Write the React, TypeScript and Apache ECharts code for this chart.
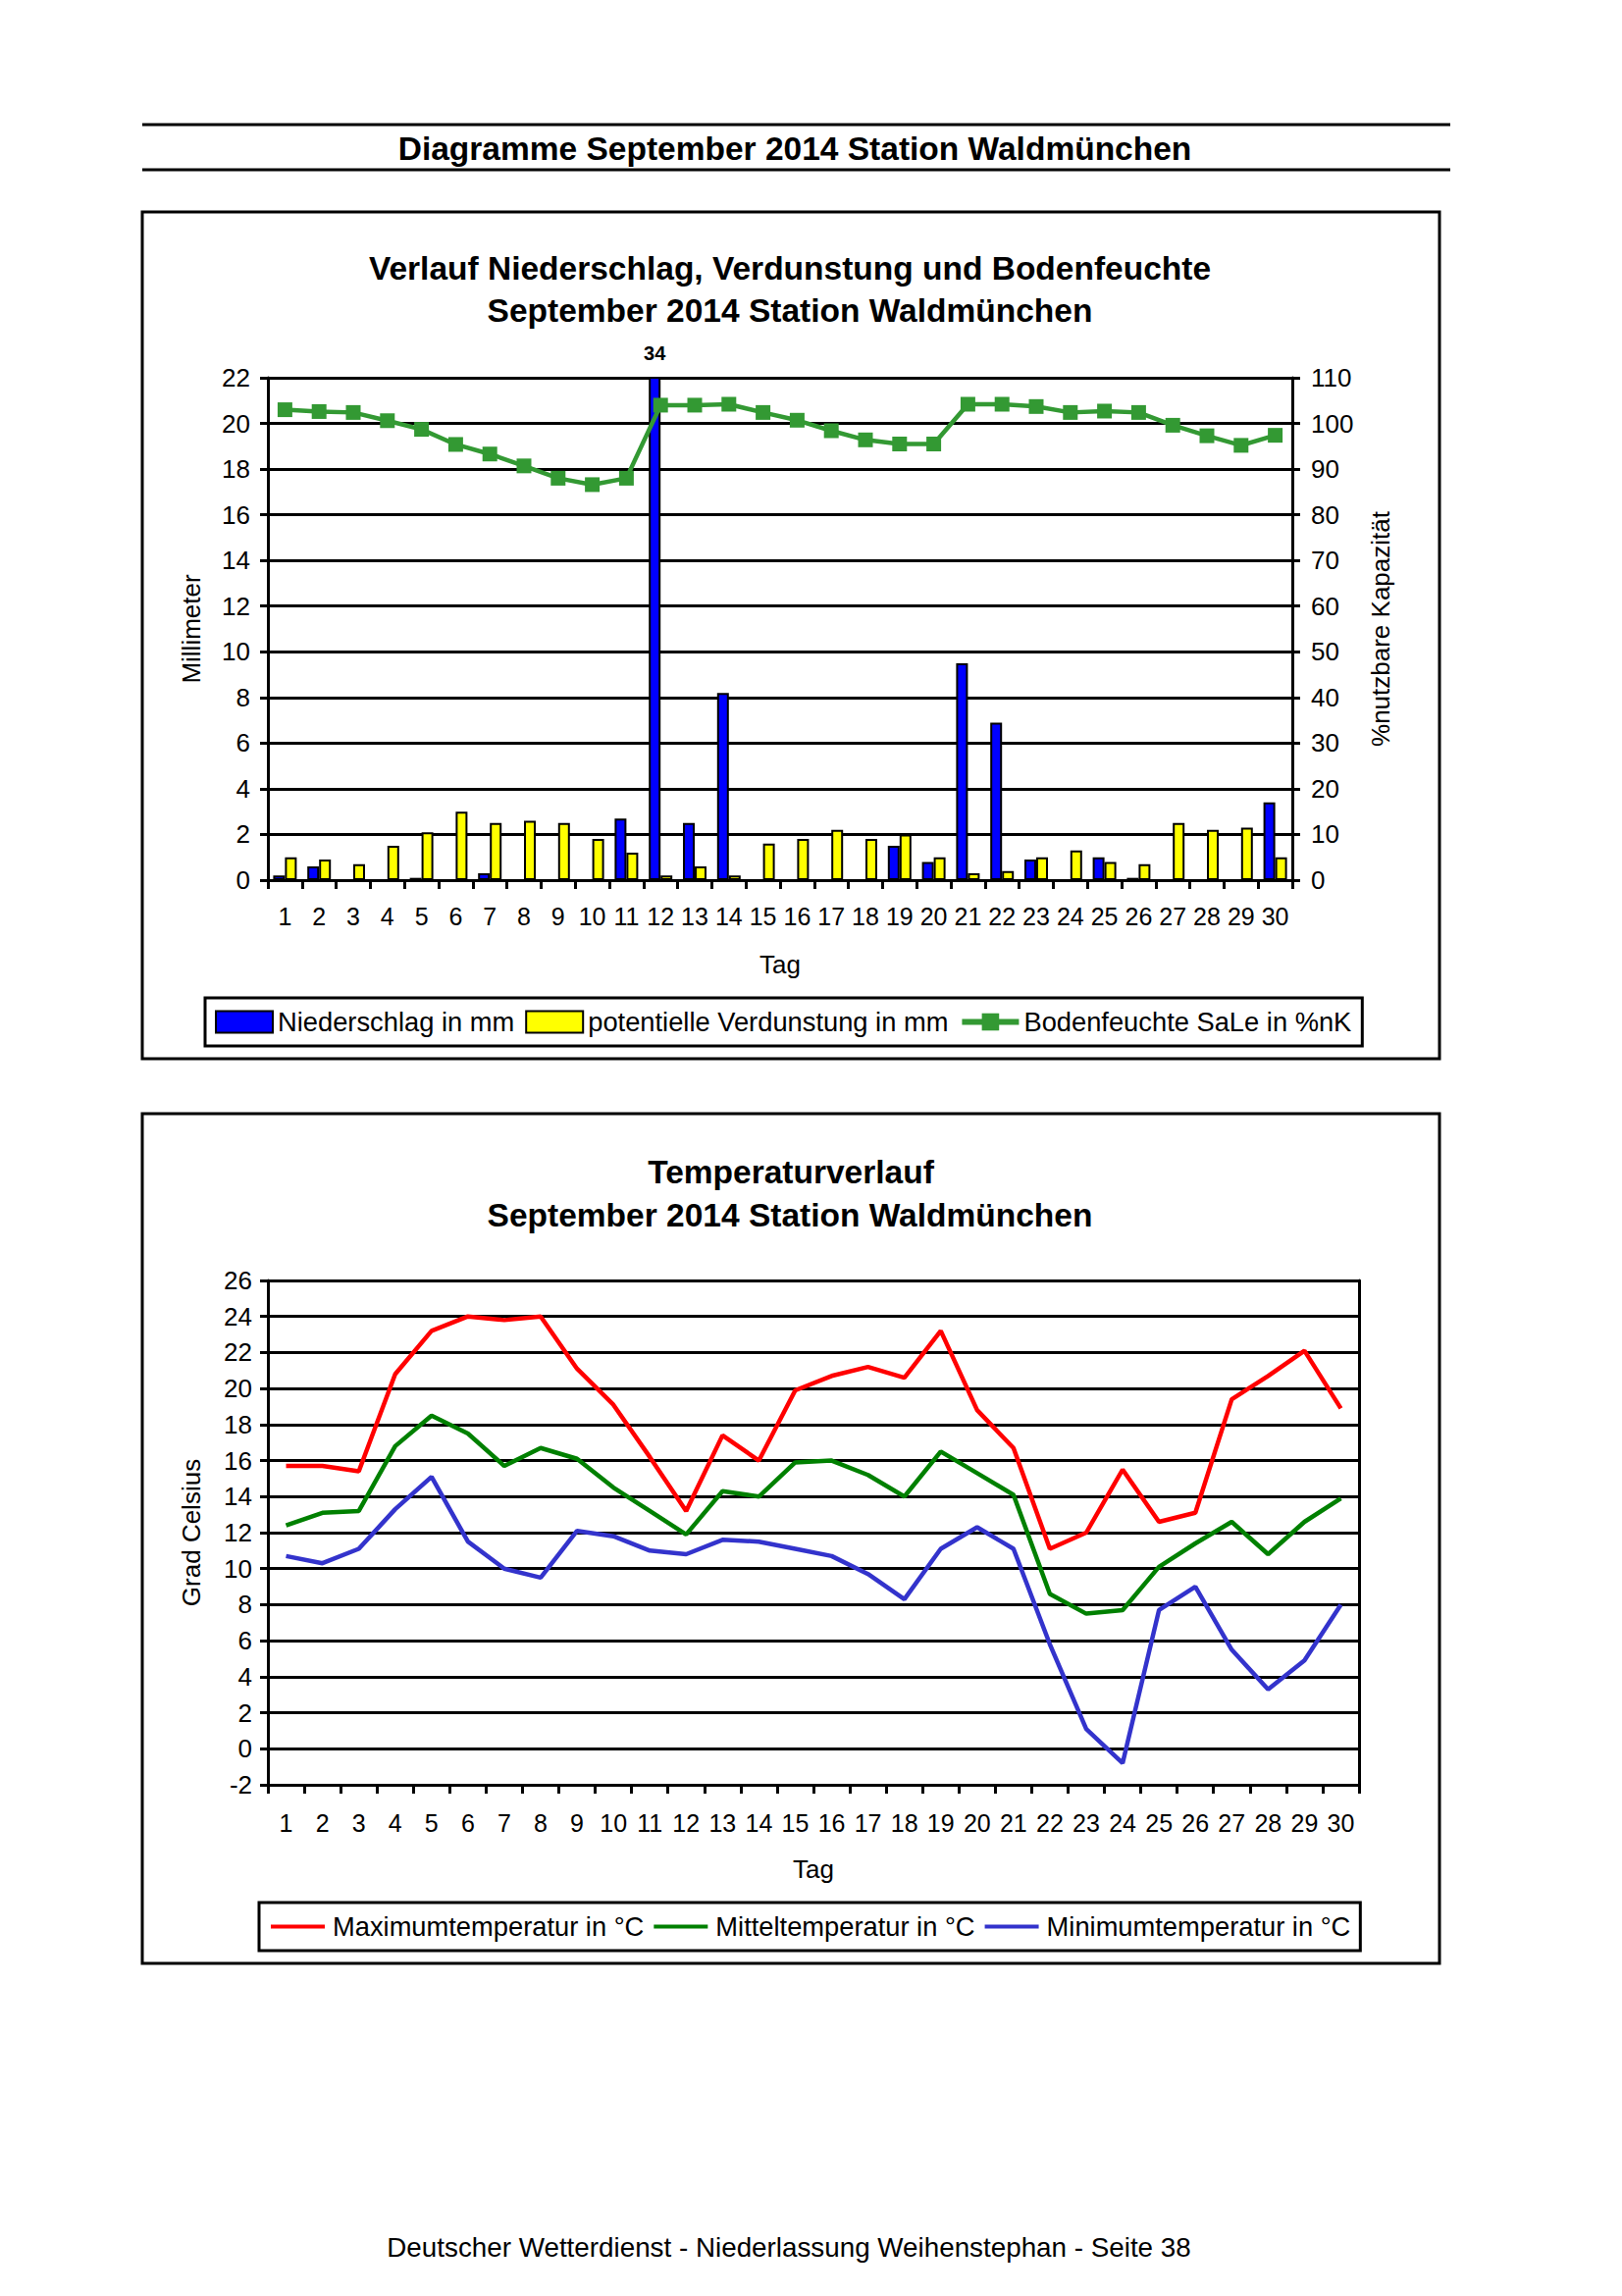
import React, { useEffect, useRef } from 'react';
import * as echarts from 'echarts';

const FONT = '"Liberation Sans", Arial, Helvetica, sans-serif';

const days = ['1','2','3','4','5','6','7','8','9','10','11','12','13','14','15','16','17','18','19','20','21','22','23','24','25','26','27','28','29','30'];

// Niederschlag in mm
const precipitation = [0.2,0.6,0,0,0.1,0,0.3,0,0,0,2.7,34,2.5,8.2,0,0,0,0,1.5,0.8,9.5,6.9,0.9,0,1.0,0.1,0,0,0,3.4];
// potentielle Verdunstung in mm
const evaporation = [1.0,0.9,0.7,1.5,2.1,3.0,2.5,2.6,2.5,1.8,1.2,0.2,0.6,0.2,1.6,1.8,2.2,1.8,2.0,1.0,0.3,0.4,1.0,1.3,0.8,0.7,2.5,2.2,2.3,1.0];
// Bodenfeuchte SaLe in %nK
const soilMoisture = [103.0,102.6,102.4,100.6,98.7,95.4,93.3,90.7,88.0,86.6,88.0,104.0,104.0,104.2,102.4,100.7,98.4,96.4,95.5,95.5,104.2,104.2,103.7,102.4,102.7,102.4,99.6,97.3,95.2,97.4];

// Temperatures in °C
const tMax = [15.7,15.7,15.4,20.8,23.2,24.0,23.8,24.0,21.1,19.1,16.2,13.2,17.4,16.0,19.9,20.7,21.2,20.6,23.2,18.8,16.7,11.1,12.0,15.5,12.6,13.1,19.4,20.7,22.1,18.9];
const tMean = [12.4,13.1,13.2,16.8,18.5,17.5,15.7,16.7,16.1,14.5,13.2,11.9,14.3,14.0,15.9,16.0,15.2,14.0,16.5,15.3,14.1,8.6,7.5,7.7,10.1,11.4,12.6,10.8,12.6,13.9];
const tMin = [10.7,10.3,11.1,13.3,15.1,11.5,10.0,9.5,12.1,11.8,11.0,10.8,11.6,11.5,11.1,10.7,9.7,8.3,11.1,12.3,11.1,5.8,1.1,-0.8,7.7,9.0,5.5,3.3,4.9,8.0];

export default function App() {
  const ref = useRef<HTMLDivElement>(null);

  useEffect(() => {
    if (!ref.current) return;
    const chart = echarts.init(ref.current, null, { renderer: 'svg', width: 1653, height: 2340 });
    const axisLine = { color: '#000', width: 3 };
    const labelStyle = { fontSize: 25, color: '#000', fontFamily: FONT };
    const titleSize = 33.5;

    const precipData = precipitation.map((v) =>
      v > 22
        ? { value: v, label: { show: true, position: 'top', distance: 14, formatter: String(v), fontSize: 20, fontWeight: 'bold', color: '#000', fontFamily: FONT } }
        : v
    );

    const option: any = {
      animation: false,
      backgroundColor: '#fff',
      textStyle: { fontFamily: FONT, color: '#000' },
      grid: [
        { left: 273, top: 385, width: 1044, height: 512 },
        { left: 273, top: 1305, width: 1112, height: 514 },
      ],
      xAxis: [
        {
          type: 'category', gridIndex: 0, data: days, boundaryGap: true,
          axisLine: { onZero: false, lineStyle: axisLine },
          axisTick: { show: true, length: 9, lineStyle: axisLine, interval: 0 },
          axisLabel: { ...labelStyle, interval: 0, margin: 24 },
          name: 'Tag', nameLocation: 'middle', nameGap: 73,
          nameTextStyle: { fontSize: 26, color: '#000', fontFamily: FONT },
        },
        {
          type: 'category', gridIndex: 1, data: days, boundaryGap: true,
          axisLine: { onZero: false, lineStyle: axisLine },
          axisTick: { show: true, length: 9, lineStyle: axisLine, interval: 0 },
          axisLabel: { ...labelStyle, interval: 0, margin: 26 },
          name: 'Tag', nameLocation: 'middle', nameGap: 73,
          nameTextStyle: { fontSize: 26, color: '#000', fontFamily: FONT },
        },
      ],
      yAxis: [
        {
          type: 'value', gridIndex: 0, min: 0, max: 22, interval: 2,
          axisLine: { show: true, lineStyle: axisLine },
          axisTick: { show: true, length: 8, lineStyle: axisLine },
          axisLabel: { fontSize: 26, color: '#000', fontFamily: FONT, margin: 18 },
          splitLine: { show: true, lineStyle: { color: '#000', width: 3 } },
          name: 'Millimeter', nameLocation: 'middle', nameRotate: 90, nameGap: 65,
          nameTextStyle: { fontSize: 26, color: '#000', fontFamily: FONT },
        },
        {
          type: 'value', gridIndex: 0, position: 'right', min: 0, max: 110, interval: 10,
          axisLine: { show: true, lineStyle: axisLine },
          axisTick: { show: true, length: 8, lineStyle: axisLine },
          axisLabel: { fontSize: 26, color: '#000', fontFamily: FONT, margin: 19 },
          splitLine: { show: false },
          name: '%nutzbare Kapazität', nameLocation: 'middle', nameRotate: 90, nameGap: 77,
          nameTextStyle: { fontSize: 26, color: '#000', fontFamily: FONT },
        },
        {
          type: 'value', gridIndex: 1, min: -2, max: 26, interval: 2,
          axisLine: { show: true, lineStyle: axisLine },
          axisTick: { show: true, length: 8, lineStyle: axisLine },
          axisLabel: { fontSize: 26, color: '#000', fontFamily: FONT, margin: 16 },
          splitLine: { show: true, lineStyle: { color: '#000', width: 3 } },
          name: 'Grad Celsius', nameLocation: 'middle', nameRotate: 90, nameGap: 65,
          nameTextStyle: { fontSize: 26, color: '#000', fontFamily: FONT },
        },
        {
          type: 'value', gridIndex: 1, position: 'right', min: -2, max: 26, interval: 2,
          axisLine: { show: true, lineStyle: axisLine },
          axisTick: { show: false },
          axisLabel: { show: false },
          splitLine: { show: false },
        },
      ],
      legend: [
        {
          left: 209, top: 1017,
          data: [
            { name: 'Niederschlag in mm', icon: 'rect' },
            { name: 'potentielle Verdunstung in mm', icon: 'rect' },
            { name: 'Bodenfeuchte SaLe in %nK', lineStyle: { width: 6 } },
          ],
          itemWidth: 58, itemHeight: 22, itemGap: 11,
          borderColor: '#000', borderWidth: 3, padding: [11, 11, 11, 10],
          textStyle: { fontSize: 27.3, color: '#000', fontFamily: FONT, padding: [0, 0, 0, 0] },
          selectedMode: false,
        },
        {
          left: 264, top: 1939,
          data: [
            { name: 'Maximumtemperatur in °C', icon: 'rect' },
            { name: 'Mitteltemperatur in °C', icon: 'rect' },
            { name: 'Minimumtemperatur in °C', icon: 'rect' },
          ],
          itemWidth: 55, itemHeight: 4, itemGap: 10,
          borderColor: '#000', borderWidth: 3, padding: [11, 10, 11, 12],
          textStyle: { fontSize: 27.3, color: '#000', fontFamily: FONT, padding: [0, 0, 0, 3] },
          selectedMode: false,
        },
      ],
      series: [
        {
          name: 'Niederschlag in mm', type: 'bar', xAxisIndex: 0, yAxisIndex: 0,
          data: precipData, barWidth: 12, barGap: '0%', clip: true,
          itemStyle: { color: '#0000FF', borderColor: '#000', borderWidth: 2 },
        },
        {
          name: 'potentielle Verdunstung in mm', type: 'bar', xAxisIndex: 0, yAxisIndex: 0,
          data: evaporation, barWidth: 12, barGap: '0%',
          itemStyle: { color: '#FFFF00', borderColor: '#000', borderWidth: 2 },
        },
        {
          name: 'Bodenfeuchte SaLe in %nK', type: 'line', xAxisIndex: 0, yAxisIndex: 1,
          data: soilMoisture, symbol: 'rect', symbolSize: 15, showSymbol: true,
          lineStyle: { color: '#339933', width: 4.5 },
          itemStyle: { color: '#339933' },
        },
        {
          name: 'Maximumtemperatur in °C', type: 'line', xAxisIndex: 1, yAxisIndex: 2,
          data: tMax, symbol: 'none', lineStyle: { color: '#FF0000', width: 4.5 }, itemStyle: { color: '#FF0000' },
        },
        {
          name: 'Mitteltemperatur in °C', type: 'line', xAxisIndex: 1, yAxisIndex: 2,
          data: tMean, symbol: 'none', lineStyle: { color: '#008000', width: 4.5 }, itemStyle: { color: '#008000' },
        },
        {
          name: 'Minimumtemperatur in °C', type: 'line', xAxisIndex: 1, yAxisIndex: 2,
          data: tMin, symbol: 'none', lineStyle: { color: '#3333CC', width: 4.5 }, itemStyle: { color: '#3333CC' },
        },
      ],
      graphic: [
        { type: 'line', shape: { x1: 145, y1: 127, x2: 1478, y2: 127 }, style: { stroke: '#000', lineWidth: 3 } },
        { type: 'line', shape: { x1: 145, y1: 173, x2: 1478, y2: 173 }, style: { stroke: '#000', lineWidth: 3 } },
        {
          type: 'text', x: 810, y: 151,
          style: { text: 'Diagramme September 2014 Station Waldmünchen', fontSize: titleSize, fontWeight: 'bold', fontFamily: FONT, fill: '#000', align: 'center', verticalAlign: 'middle' },
        },
        { type: 'rect', shape: { x: 145, y: 216, width: 1322, height: 863 }, style: { fill: 'none', stroke: '#000', lineWidth: 3 } },
        {
          type: 'text', x: 805, y: 273,
          style: { text: 'Verlauf Niederschlag, Verdunstung und Bodenfeuchte', fontSize: titleSize, fontWeight: 'bold', fontFamily: FONT, fill: '#000', align: 'center', verticalAlign: 'middle' },
        },
        {
          type: 'text', x: 805, y: 316,
          style: { text: 'September 2014 Station Waldmünchen', fontSize: titleSize, fontWeight: 'bold', fontFamily: FONT, fill: '#000', align: 'center', verticalAlign: 'middle' },
        },
        { type: 'rect', shape: { x: 145, y: 1135, width: 1322, height: 866 }, style: { fill: 'none', stroke: '#000', lineWidth: 3 } },
        {
          type: 'text', x: 806, y: 1194,
          style: { text: 'Temperaturverlauf', fontSize: titleSize, fontWeight: 'bold', fontFamily: FONT, fill: '#000', align: 'center', verticalAlign: 'middle' },
        },
        {
          type: 'text', x: 805, y: 1238,
          style: { text: 'September 2014 Station Waldmünchen', fontSize: titleSize, fontWeight: 'bold', fontFamily: FONT, fill: '#000', align: 'center', verticalAlign: 'middle' },
        },
        {
          type: 'text', x: 804, y: 2290,
          style: { text: 'Deutscher Wetterdienst - Niederlassung Weihenstephan - Seite 38', fontSize: 27.8, fontFamily: FONT, fill: '#000', align: 'center', verticalAlign: 'middle' },
        },
      ],
    };

    chart.setOption(option);
    return () => chart.dispose();
  }, []);

  return (
    <div
      ref={ref}
      style={{ position: 'absolute', left: 0, top: 0, width: 1653, height: 2340, background: '#fff' }}
    />
  );
}
